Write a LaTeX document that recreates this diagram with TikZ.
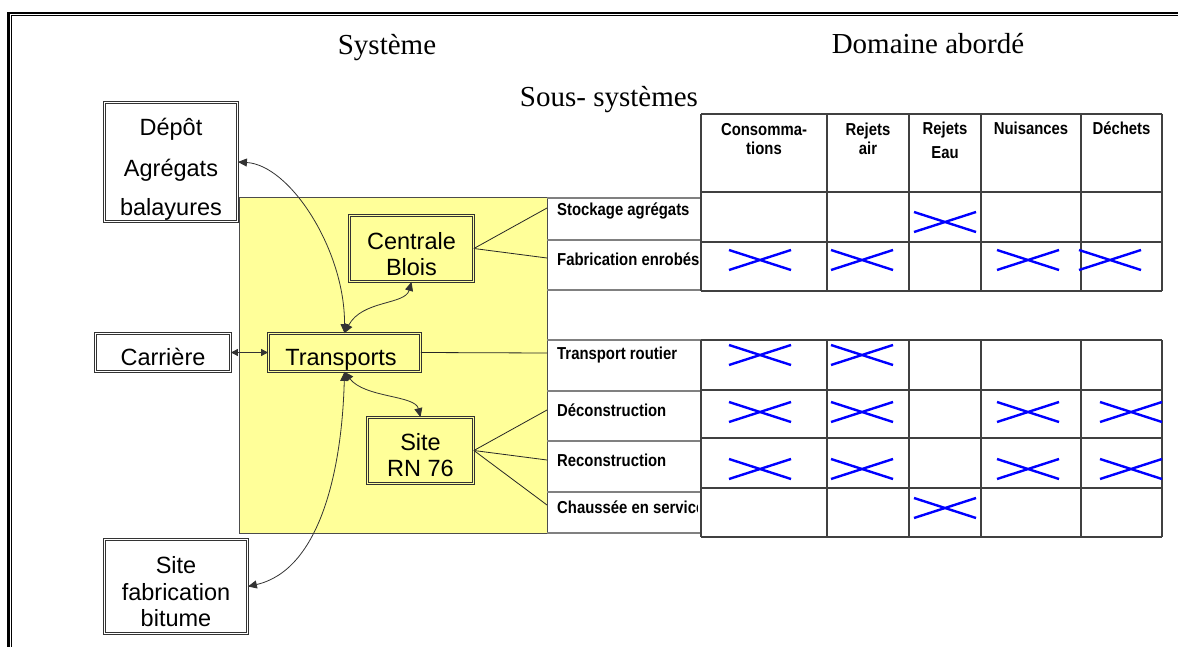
\documentclass[tikz,border=0pt]{standalone}
\usepackage{fontspec}
\setmainfont{Liberation Serif}
\setsansfont{Liberation Sans}
\usetikzlibrary{arrows.meta}
\definecolor{paleyellow}{RGB}{255,255,153}
\definecolor{crossblue}{RGB}{0,0,255}
\newcommand{\nw}[1]{\scalebox{0.86}[1]{#1}}
\tikzset{
  bluecross/.pic={\draw[crossblue, line width=2.4pt] (-31,-10) -- (31,10) (-31,10) -- (31,-10);},
}
\begin{document}
\begin{tikzpicture}[x=1pt,y=-1pt,
  wbox/.style={draw=black!80, line width=0.8pt, double=white, double distance=1.8pt, fill=white, inner sep=0pt},
  ybox/.style={wbox, double=paleyellow, fill=paleyellow},
  boxtxt/.style={font=\sffamily\fontsize{23.5}{28}\selectfont, inner sep=0pt, anchor=base},
  titletxt/.style={font=\fontsize{29}{34}\selectfont, inner sep=0pt, anchor=base},
  tabtxt/.style={font=\sffamily\bfseries\fontsize{17.3}{20}\selectfont, inner sep=0pt},
  conn/.style={draw=black!80, line width=0.8pt, {Triangle[length=9pt,width=8pt]}-{Triangle[length=9pt,width=8pt]}},
  smalltips/.style={{Triangle[length=7pt,width=7pt]}-{Triangle[length=7pt,width=7pt]}},
  linkline/.style={draw=black!85, line width=0.8pt},
  tabline/.style={draw=black!75, line width=1.1pt},
  lightline/.style={draw=black!50, line width=1.1pt},
  sysrect/.style={draw=black!70, line width=0.8pt, fill=paleyellow, inner sep=0pt}
]
\useasboundingbox (0,0) rectangle (1178,647);
\clip (0,0) rectangle (1178,647);
\fill[white] (0,0) rectangle (1178,647);
% outer double frame
\draw[line width=2.5pt] (8.5,700) -- (8.5,12.8) -- (1200,12.8);
\draw[line width=1.3pt] (11.7,700) -- (11.7,15.7) -- (1200,15.7);
% titles
\node[titletxt] (tsys) at (387,54.5) {Système};
\node[titletxt] (tdom) at (928,53.5) {Domaine abordé};
\node[titletxt] (tsous) at (609,107) {Sous- systèmes};
% system region
\node[sysrect, minimum width=308pt, minimum height=336pt] (system) at (393,365) {};
% boxes
\node[wbox, minimum width=133pt, minimum height=119pt] (depot) at (171,162) {};
\node[wbox, minimum width=135pt, minimum height=38pt] (carriere) at (163,352.5) {};
\node[wbox, minimum width=143pt, minimum height=94pt] (sitefab) at (176,586.5) {};
\node[ybox, minimum width=124pt, minimum height=66pt] (centrale) at (411.5,248.5) {};
\node[ybox, minimum width=152pt, minimum height=38pt] (transports) at (344.5,352.5) {};
\node[ybox, minimum width=106pt, minimum height=66pt] (siteRN) at (420.5,450.5) {};
% box texts
\node[boxtxt] (depot1) at (171,136) {Dépôt};
\node[boxtxt] (depot2) at (171,176.5) {Agrégats};
\node[boxtxt] (depot3) at (171,215) {balayures};
\node[boxtxt] (carriere1) at (163,365.5) {Carrière};
\node[boxtxt] (sitefab1) at (176,573) {Site};
\node[boxtxt] (sitefab2) at (176,600) {fabrication};
\node[boxtxt] (sitefab3) at (176,626.5) {bitume};
\node[boxtxt] (centrale1) at (411.5,249.5) {Centrale};
\node[boxtxt] (centrale2) at (411.5,276) {Blois};
\node[boxtxt] (transports1) at (341,365) {Transports};
\node[boxtxt] (siteRN1) at (420.5,450) {Site};
\node[boxtxt] (siteRN2) at (420.5,476) {RN 76};
% connectors
\draw[conn] (depot.east) .. controls (290,165) and (345,250) .. (transports.north);
\draw[conn] (transports.north) .. controls (362,300) and (405,305) .. (centrale.south);
\draw[conn] (transports.south) .. controls (365,398) and (415,395) .. (siteRN.north);
\draw[conn] (transports.south) .. controls (342,470) and (320,570) .. (sitefab.east);
\draw[conn, smalltips] (carriere.east) -- (transports.west);
% links to sub-systems
\coordinate (rStock) at (547,208);
\coordinate (rFab) at (547,258);
\coordinate (rTrans) at (547,353);
\coordinate (rDecon) at (547,410);
\coordinate (rRecon) at (547,460);
\coordinate (rChaus) at (547,505);
\draw[linkline] (centrale.east) -- (rStock);
\draw[linkline] (centrale.east) -- (rFab);
\draw[linkline] (transports.east) -- (rTrans);
\draw[linkline] (siteRN.east) -- (rDecon);
\draw[linkline] (siteRN.east) -- (rRecon);
\draw[linkline] (siteRN.east) -- (rChaus);
% row labels
\node[tabtxt, anchor=base west] (lStock) at (557,215) {\nw{Stockage agrégats}};
\node[tabtxt, anchor=base west] (lFab) at (557,265.5) {\nw{Fabrication enrobés}};
\node[tabtxt, anchor=base west] (lTrans) at (557,359) {\nw{Transport routier}};
\node[tabtxt, anchor=base west] (lDecon) at (557,416.5) {\nw{Déconstruction}};
\node[tabtxt, anchor=base west] (lRecon) at (557,466) {\nw{Reconstruction}};
\begin{scope}
\clip (547,488) rectangle (697.5,540);
\node[tabtxt, anchor=base west] (lChaus) at (557,513) {\nw{Chaussée en service}};
\end{scope}
\foreach \y in {198,240,290,340,391,441,492,533} \draw[lightline] (547,\y) -- (701,\y);
% table grid
\foreach \y in {114,192,242,291} \draw[tabline] (701,\y) -- (1162,\y);
\foreach \x in {701,827,909,981,1081,1162} \draw[tabline] (\x,114) -- (\x,291);
\foreach \y in {340,390,438,488,537} \draw[tabline] (701,\y) -- (1162,\y);
\foreach \x in {701,827,909,981,1081,1162} \draw[tabline] (\x,340) -- (\x,537);
% headers
\node[tabtxt, anchor=base] (h1a) at (764,136) {\nw{Consomma-}};
\node[tabtxt, anchor=base] (h1b) at (764,155) {\nw{tions}};
\node[tabtxt, anchor=base] (h2a) at (868,136) {\nw{Rejets}};
\node[tabtxt, anchor=base] (h2b) at (868,155) {\nw{air}};
\node[tabtxt, anchor=base] (h3a) at (945,135) {\nw{Rejets}};
\node[tabtxt, anchor=base] (h3b) at (945,159) {\nw{Eau}};
\node[tabtxt, anchor=base] (h4) at (1031,135) {\nw{Nuisances}};
\node[tabtxt, anchor=base] (h5) at (1121.5,135) {\nw{Déchets}};
% crosses
\pic at (945,222) {bluecross};
\pic at (760,260) {bluecross};
\pic at (862,260) {bluecross};
\pic at (1028,260) {bluecross};
\pic at (1110,260) {bluecross};
\pic at (760,355) {bluecross};
\pic at (862,355) {bluecross};
\pic at (760,412) {bluecross};
\pic at (862,412) {bluecross};
\pic at (1028,412) {bluecross};
\pic at (1131,412) {bluecross};
\pic at (760,469) {bluecross};
\pic at (862,469) {bluecross};
\pic at (1028,469) {bluecross};
\pic at (1131,469) {bluecross};
\pic at (945,508) {bluecross};
\end{tikzpicture}
\end{document}
